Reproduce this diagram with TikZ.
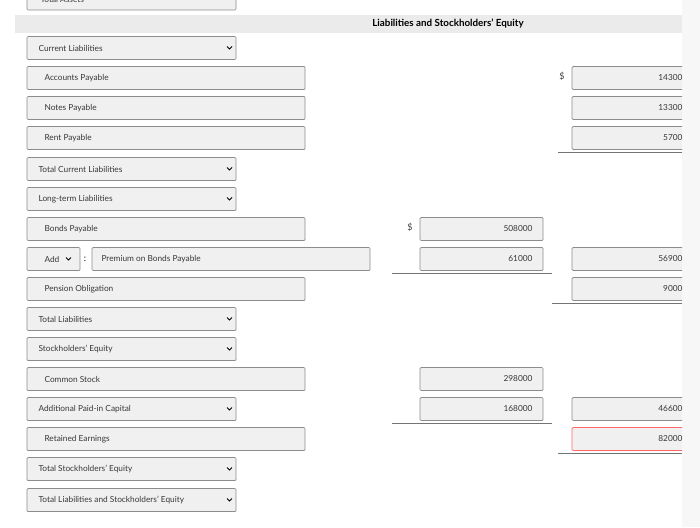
\documentclass[tikz,border=0pt]{standalone}
\usepackage{fontspec}
\setmainfont{Lato}
\begin{document}
\begin{tikzpicture}[x=1pt,y=-1pt,
 box/.style={draw=black!45,fill=black!6,rounded corners=1pt,line width=0.7pt},
 txt/.style={font=\fontsize{8.3}{10}\selectfont,text=black!78},
 rule/.style={draw=black!55,line width=1pt},
 dol/.style={font=\fontsize{9}{11}\selectfont,text=black!75}]
\useasboundingbox (0,0) rectangle (700,527);
\fill[black!3] (682,0) rectangle (700,527);
\fill[black!8] (15,15) rectangle (682,33);
\node[font=\bfseries\fontsize{9.8}{12}\selectfont] (title) at (448,24) {Liabilities and Stockholders' Equity};
\begin{scope}
\clip (0,0) rectangle (700,527);
\draw[box] (27,-13) rectangle (236,10);
\node[txt,anchor=west] (ta) at (37,-1) {Total Assets};
\end{scope}
\foreach \y/\w/\t/\d in {48/236/Current Liabilities/1,78/305/Accounts Payable/0,108/305/Notes Payable/0,138/305/Rent Payable/0,169/236/Total Current Liabilities/1,199/236/Long-term Liabilities/1,229/305/Bonds Payable/0,289/305/Pension Obligation/0,319/236/Total Liabilities/1,349/236/Stockholders' Equity/1,379/305/Common Stock/0,409/236/Additional Paid-in Capital/1,439/305/Retained Earnings/0,469/236/Total Stockholders' Equity/1,500/236/Total Liabilities and Stockholders' Equity/1}{
 \draw[box] (27,\y-11.5) rectangle (\w,\y+11.5);
 \ifnum\d=1
  \node[txt,anchor=west] at (35,\y) {\t};
  \draw[line width=0.8pt] (227,\y-1.5) -- (229.5,\y+1) -- (232,\y-1.5);
 \else
  \node[txt,anchor=west] at (41,\y) {\t};
 \fi
}
\draw[box] (27,247.5) rectangle (80,270.5);
\node[txt,anchor=west] (add) at (41,259) {Add};
\draw[line width=0.8pt] (66,257.5) -- (68.5,260) -- (71,257.5);
\node[font=\fontsize{9}{10}\selectfont] (colon) at (85,259) {:};
\draw[box] (92,247.5) rectangle (370,270.5);
\node[txt,anchor=west] (prem) at (98,259) {Premium on Bonds Payable};
\foreach \y/\v in {229/508000,259/61000,379/298000,409/168000}{
 \draw[box] (420,\y-11.5) rectangle (543,\y+11.5);
 \node[txt,anchor=east] at (536,\y) {\v};
}
\node[dol] (d1) at (410,227) {\$};
\node[dol] (d2) at (562,76) {\$};
\begin{scope}
\clip (0,0) rectangle (682,527);
\foreach \y/\v in {78/14300,108/13300,138/5700,259/56900,289/9000,409/46600}{
 \draw[box] (572,\y-11.5) rectangle (690,\y+11.5);
 \node[txt,anchor=east] at (686,\y) {\v};
}
\draw[box,draw=red!60] (572,427.5) rectangle (690,450.5);
\node[txt,anchor=east] at (686,439) {82000};
\end{scope}
\draw[rule] (558,152) -- (682,152);
\draw[rule] (392,273) -- (552,273);
\draw[rule] (552,303) -- (682,303);
\draw[rule] (392,423) -- (552,423);
\draw[rule] (558,453) -- (682,453);
\end{tikzpicture}
\end{document}
